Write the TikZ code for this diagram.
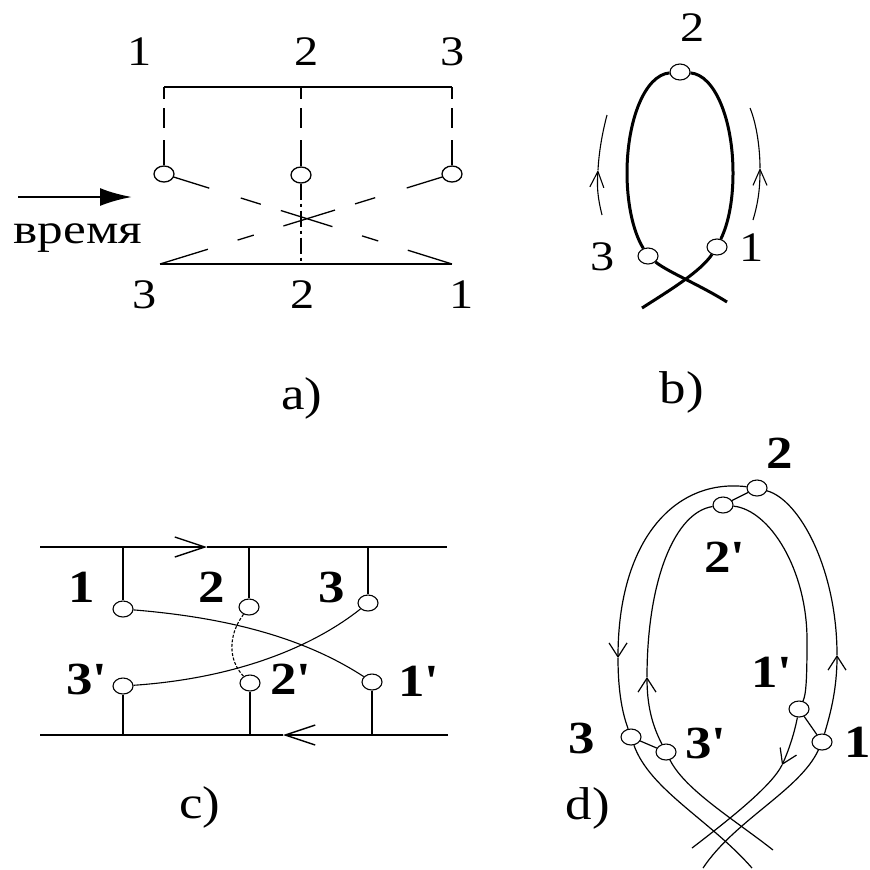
\documentclass[tikz,border=0pt]{standalone}
\usepackage{fontspec}
\setmainfont{Liberation Serif}
\usetikzlibrary{arrows.meta,shapes.geometric}
\newcommand\stx[1]{\scalebox{1.15}[1]{#1}}
\newcommand\prm{\textquotesingle}
\begin{document}
\begin{tikzpicture}[x=0.5pt,y=-0.5pt,
  pt/.style={draw, ellipse, fill=white, minimum width=10pt, minimum height=8pt, inner sep=0pt, line width=0.55pt},
  num/.style={inner sep=0pt, font=\fontsize{21}{21}\selectfont},
  bnum/.style={inner sep=0pt, font=\fontsize{23}{23}\selectfont\bfseries},
  captxt/.style={inner sep=0pt, font=\fontsize{23}{23}\selectfont},
  aln/.style={line width=0.65pt},
  bln/.style={line width=1.5pt},
  thinln/.style={line width=0.55pt},
  vln/.style={line width=1pt},
  hln/.style={line width=0.7pt},
  dln/.style={line width=0.6pt},
  vdash/.style={aln, dash pattern=on 6pt off 4.5pt on 10pt off 6pt on 30pt},
  ddiag/.style={aln, dash pattern=on 18.5pt off 16.5pt on 10.5pt off 10.5pt on 27pt off 15.5pt on 8.5pt off 15.5pt on 40pt},
  ddot/.style={aln, dash pattern=on 8pt off 2pt on 1.5pt off 2pt},
  barbb/.style={-{Straight Barb[length=8pt,width=7pt]}},
  barbc/.style={-{Straight Barb[length=15pt,width=10pt]}},
  barbd/.style={-{Straight Barb[length=7pt,width=9pt]}}]
\useasboundingbox (0,0) rectangle (870,869);

% ---------------- a) ----------------
\coordinate (aT1) at (164,87);
\coordinate (aT2) at (301,87);
\coordinate (aT3) at (452,87);
\coordinate (aB3) at (160,264);
\coordinate (aB2) at (301,264);
\coordinate (aB1) at (452,264);
\draw[aln] (aT1) -- (aT3);
\draw[aln] (aB3) -- (aB1);
\node[pt, line width=0.65pt] (a1) at (164,174) {};
\node[pt, line width=0.65pt] (a2) at (301,175) {};
\node[pt, line width=0.65pt] (a3) at (452,174) {};
\draw[vdash] (aT1) -- (a1);
\draw[vdash] (aT2) -- (a2);
\draw[vdash] (aT3) -- (a3);
\draw[ddiag] (a1) -- (aB1);
\draw[ddiag] (a3) -- (aB3);
\draw[ddot] (a2) -- (aB2);
\node[num] (la1) at (140,52) {\stx{1}};
\node[num] (la2) at (307,52) {\stx{2}};
\node[num] (la3) at (453,52) {\stx{3}};
\node[num] (lb3) at (145,295) {\stx{3}};
\node[num] (lb2) at (303,295) {\stx{2}};
\node[num] (lb1) at (462,295) {\stx{1}};
\coordinate (arS) at (18,197);
\coordinate (arE) at (132,197);
\draw[line width=1.4pt, -{Latex[length=16pt,width=9pt]}] (arS) -- (arE);
\node[num] (vr) at (78,238) {\scalebox{1.22}[1]{время}};
\node[captxt] (capa) at (302,398) {\stx{a)}};

% ---------------- b) ----------------
\node[pt] (b2) at (680,72) {};
\node[pt] (b1) at (717,247) {};
\node[pt] (b3) at (648,256) {};
\coordinate (bTL) at (642,308);
\coordinate (bTR) at (727,302);
\coordinate (bRm) at (733,173);
\coordinate (bLm) at (627,173);
\draw[bln] (bTL) .. controls (670,290) and (700,272) .. (b1);
\draw[bln] (b3) .. controls (668,272) and (700,285) .. (bTR);
\draw[bln] (b1) .. controls (730,220) and (733,195) .. (bRm) .. controls (733,120) and (715,75) .. (b2);
\draw[bln] (b2) .. controls (645,75) and (627,120) .. (bLm) .. controls (627,200) and (632,230) .. (b3);
\coordinate (bAL0) at (602,215);
\coordinate (bAL) at (598,170);
\coordinate (bAL1) at (607,115);
\draw[thinln, barbb] (bAL0) .. controls (597,195) and (597,185) .. (bAL);
\draw[thinln] (bAL) .. controls (599,150) and (603,130) .. (bAL1);
\coordinate (bAR0) at (753,220);
\coordinate (bAR) at (760,168);
\coordinate (bAR1) at (750,108);
\draw[thinln, barbb] (bAR0) .. controls (759,200) and (760,185) .. (bAR);
\draw[thinln] (bAR) .. controls (760,150) and (757,125) .. (bAR1);
\node[num] (lbb2) at (693,28) {\stx{2}};
\node[num] (lbb3) at (603,257) {\stx{3}};
\node[num] (lbb1) at (752,248) {\stx{1}};
\node[captxt] (capb) at (682,392) {\stx{b)}};

% ---------------- c) ----------------
\coordinate (cTL) at (40,547);
\coordinate (cTA) at (207,547);
\coordinate (cTR) at (447,547);
\coordinate (cBL) at (40,735);
\coordinate (cBA) at (283,735);
\coordinate (cBR) at (448,735);
\draw[hln, barbc] (cTL) -- (cTA);
\draw[hln] (cTA) -- (cTR);
\draw[hln, barbc] (cBR) -- (cBA);
\draw[hln] (cBA) -- (cBL);
\coordinate (ct1) at (123,547);
\coordinate (ct2) at (249,547);
\coordinate (ct3) at (368,547);
\coordinate (cb3) at (123,735);
\coordinate (cb2) at (250,735);
\coordinate (cb1) at (372,735);
\node[pt] (c1) at (123,609) {};
\node[pt] (c2) at (249,607) {};
\node[pt] (c3) at (368,603) {};
\node[pt] (c1p) at (372,682) {};
\node[pt] (c2p) at (250,683) {};
\node[pt] (c3p) at (123,686) {};
\draw[vln] (ct1) -- (c1);
\draw[vln] (ct2) -- (c2);
\draw[vln] (ct3) -- (c3);
\draw[vln] (cb3) -- (c3p);
\draw[vln] (cb2) -- (c2p);
\draw[vln] (cb1) -- (c1p);
\draw[thinln] (c1) .. controls (220,617) and (300,635) .. (c1p);
\draw[thinln] (c3) .. controls (315,645) and (240,678) .. (c3p);
\draw[thinln, dash pattern=on 1.5pt off 0.8pt] (c2) .. controls (228,635) and (228,660) .. (c2p);
\node[bnum] (lc1) at (82,587) {\stx{1}};
\node[bnum] (lc2) at (212,587) {\stx{2}};
\node[bnum] (lc3) at (332,587) {\stx{3}};
\node[bnum] (lc3p) at (87,679) {\stx{3\prm}};
\node[bnum] (lc2p) at (291,679) {\stx{2\prm}};
\node[bnum] (lc1p) at (419,681) {\stx{1\prm}};
\node[captxt] (capc) at (200,807) {\stx{c)}};

% ---------------- d) ----------------
\node[pt] (d2) at (757,488) {};
\node[pt] (d2p) at (723,505) {};
\node[pt] (d3) at (631,737) {};
\node[pt] (d3p) at (666,752) {};
\node[pt] (d1p) at (799,709) {};
\node[pt] (d1) at (822,742) {};
\coordinate (dOL) at (618,658);
\coordinate (dOR) at (837,655);
\coordinate (dIL) at (647,677);
\coordinate (dIR) at (782,765);
\coordinate (dIRm) at (807,640);
\coordinate (dT1) at (752,868);
\coordinate (dT2) at (703,868);
\coordinate (dT3) at (773,850);
\coordinate (dT4) at (692,848);
\draw[dln, barbd] (d2) .. controls (675,478) and (618,540) .. (dOL);
\draw[dln] (dOL) .. controls (618,700) and (625,720) .. (d3);
\draw[dln, barbd] (d1) .. controls (830,715) and (837,690) .. (dOR);
\draw[dln] (dOR) .. controls (837,570) and (800,500) .. (d2);
\draw[dln, barbd] (d3p) .. controls (652,725) and (647,705) .. (dIL);
\draw[dln] (dIL) .. controls (647,580) and (675,512) .. (d2p);
\draw[dln] (d2p) .. controls (770,510) and (807,570) .. (dIRm) .. controls (807,680) and (806,695) .. (d1p);
\draw[dln] (d3) .. controls (650,790) and (710,820) .. (dT1);
\draw[dln] (d1) .. controls (800,790) and (735,820) .. (dT2);
\draw[dln] (d3p) .. controls (685,790) and (735,820) .. (dT3);
\draw[dln, barbd] (d1p) .. controls (794,735) and (788,752) .. (dIR);
\draw[dln] (dIR) .. controls (772,785) and (735,815) .. (dT4);
\draw[dln] (d2p) -- (d2);
\draw[dln] (d3) -- (d3p);
\draw[dln] (d1p) -- (d1);
\node[bnum] (ld2) at (780,453) {\stx{2}};
\node[bnum] (ld2p) at (725,557) {\stx{2\prm}};
\node[bnum] (ld1p) at (772,672) {\stx{1\prm}};
\node[bnum] (ld3) at (582,738) {\stx{3}};
\node[bnum] (ld3p) at (706,743) {\stx{3\prm}};
\node[bnum] (ld1) at (858,742) {\stx{1}};
\node[captxt] (capd) at (588,808) {\stx{d)}};
\end{tikzpicture}
\end{document}
